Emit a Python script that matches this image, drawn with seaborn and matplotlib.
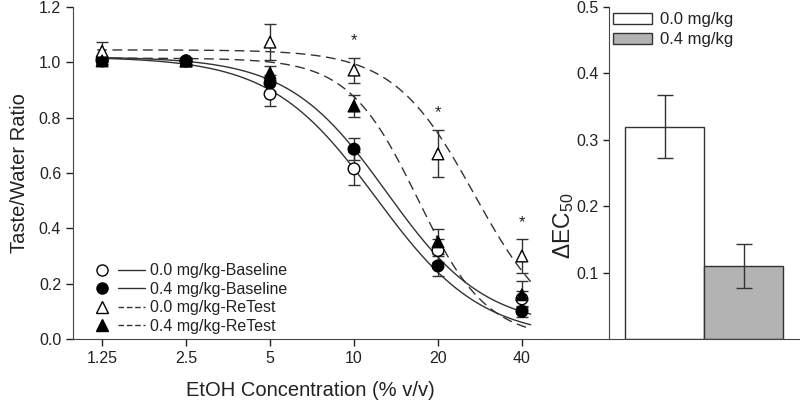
import matplotlib
matplotlib.use("Agg")
import matplotlib.pyplot as plt
import numpy as np
import pandas as pd
import seaborn as sns
from matplotlib.lines import Line2D
from matplotlib.patches import Patch
from matplotlib.legend_handler import HandlerTuple

# concentration axis
conc = [1.25, 2.5, 5, 10, 20, 40]
conc_labels = ["1.25", "2.5", "5", "10", "20", "40"]

groups = ["0.0 mg/kg-Baseline", "0.4 mg/kg-Baseline", "0.0 mg/kg-ReTest", "0.4 mg/kg-ReTest"]

# taste/water ratio means and SEMs
base00_mean = [1.01, 1.005, 0.885, 0.615, 0.32, 0.145]
base00_sem = [0.01, 0.01, 0.043, 0.06, 0.04, 0.03]
base04_mean = [1.005, 1.005, 0.925, 0.686, 0.264, 0.10]
base04_sem = [0.01, 0.01, 0.03, 0.04, 0.036, 0.02]
retest00_mean = [1.04, 1.005, 1.073, 0.972, 0.669, 0.30]
retest00_sem = [0.035, 0.01, 0.065, 0.045, 0.085, 0.06]
retest04_mean = [1.005, 1.005, 0.961, 0.842, 0.351, 0.16]
retest04_sem = [0.01, 0.01, 0.025, 0.04, 0.045, 0.05]

# fitted sigmoid parameters (top, bottom, EC50, hill)
fit_top = [1.02, 1.02, 1.045, 1.015]
fit_bottom = [0.0, 0.04, 0.0, 0.0]
fit_ec50 = [12.0, 13.1, 27.0, 16.9]
fit_hill = [2.3, 2.46, 3.0, 3.5]
curve_range = (1.2, 43)

# significance stars
star_x = [10, 20, 40]
star_y = [1.08, 0.82, 0.42]

# delta EC50 bars
dose_groups = ["0.0 mg/kg", "0.4 mg/kg"]
dec50_mean = [0.32, 0.11]
dec50_sem = [0.048, 0.033]

line_color = "#333333"
text_color = "#222222"

sns.set_style("ticks")
plt.rcParams["font.family"] = ["Liberation Sans", "DejaVu Sans"]
plt.rcParams["mathtext.default"] = "regular"
plt.rcParams["text.color"] = text_color
plt.rcParams["axes.labelcolor"] = text_color
plt.rcParams["xtick.color"] = text_color
plt.rcParams["ytick.color"] = text_color
plt.rcParams["axes.edgecolor"] = "#444444"

fig = plt.figure(figsize=(8, 4.12), dpi=100)
ax = fig.add_axes([73 / 800, 73 / 412, 475 / 800, 332 / 412])
ax2 = fig.add_axes([548 / 800, 73 / 412, 252 / 800, 332 / 412])

# --- left panel: dose-response curves
xs = np.geomspace(curve_range[0], curve_range[1], 300)
frames = []
for g, top, bot, ec, h in zip(groups, fit_top, fit_bottom, fit_ec50, fit_hill):
    ys = bot + (top - bot) / (1 + (xs / ec) ** h)
    frames.append(pd.DataFrame({"conc": xs, "ratio": ys, "group": g}))
curves = pd.concat(frames, ignore_index=True)

sns.lineplot(data=curves, x="conc", y="ratio", hue="group", style="group",
             palette=[line_color] * 4, dashes=["", "", (7, 4), (7, 4)],
             linewidth=1.0, legend=False, ax=ax, zorder=2)

means = [base00_mean, base04_mean, retest00_mean, retest04_mean]
sems = [base00_sem, base04_sem, retest00_sem, retest04_sem]
for m, s in zip(means, sems):
    ax.errorbar(conc, m, yerr=s, fmt="none", ecolor=line_color, elinewidth=1,
                capsize=4, capthick=1, zorder=3)

pts = pd.DataFrame({
    "conc": conc * 4,
    "ratio": sum(means, []),
    "group": [g for g in groups for _ in conc],
})
sns.scatterplot(data=pts, x="conc", y="ratio", hue="group", style="group",
                palette=["white", "black", "white", "black"],
                markers=["o", "o", "^", "^"], s=70, edgecolor="black",
                linewidth=1, legend=False, ax=ax, zorder=4)

for sx, sy in zip(star_x, star_y):
    ax.text(sx, sy, "*", ha="center", va="center", fontsize=12)

ax.set_xscale("log", base=2)
ax.set_xlim(0.983, 49.6)
ax.set_xticks(conc)
ax.set_xticklabels(conc_labels)
ax.minorticks_off()
ax.set_ylim(0, 1.2)
ax.set_yticks([0, 0.2, 0.4, 0.6, 0.8, 1.0, 1.2])
ax.set_yticklabels(["0.0", "0.2", "0.4", "0.6", "0.8", "1.0", "1.2"])
ax.tick_params(labelsize=11.5, length=5, width=1)
ax.set_xlabel("EtOH Concentration (% v/v)", fontsize=14.5, labelpad=11)
ax.set_ylabel("Taste/Water Ratio", fontsize=14.5, labelpad=7)
sns.despine(ax=ax)

handles = []
for mk, fc, ls in zip(["o", "o", "^", "^"], ["white", "black", "white", "black"],
                      ["-", "-", (0, (4, 2)), (0, (4, 2))]):
    mh = Line2D([], [], marker=mk, mfc=fc, mec="black", ls="none", ms=8)
    lh = Line2D([], [], color=line_color, ls=ls, lw=1)
    handles.append((mh, lh))
ax.legend(handles, groups, handler_map={tuple: HandlerTuple(ndivide=2, pad=0.15)},
          loc="lower left", bbox_to_anchor=(0.01, -0.018), frameon=False,
          handlelength=3.5, handletextpad=0.35, labelspacing=0.22, fontsize=11.5,
          borderaxespad=0.3)

# --- right panel: delta EC50 bars
sns.barplot(x=dose_groups, y=dec50_mean, hue=dose_groups,
            palette=["white", "#b3b3b3"], width=1.0, edgecolor=line_color,
            linewidth=1, legend=False, ax=ax2, zorder=2)
ax2.errorbar([0, 1], dec50_mean, yerr=dec50_sem, fmt="none", ecolor=line_color,
             elinewidth=1, capsize=6, capthick=1, zorder=3)
ax2.set_xlim(-1.475, 1.715)
ax2.set_ylim(0, 0.5)
ax2.set_yticks([0.1, 0.2, 0.3, 0.4, 0.5])
ax2.set_yticklabels(["0.1", "0.2", "0.3", "0.4", "0.5"])
ax2.set_xticks([])
ax2.spines["left"].set_position(("data", -0.70))
ax2.spines["top"].set_visible(False)
ax2.spines["right"].set_visible(False)
ax2.tick_params(labelsize=11.5, length=4, width=1)
ax2.set_xlabel("")
ax2.set_ylabel("ΔEC$_{50}$", fontsize=16.5)
ax2.yaxis.set_label_coords(0.11, 0.34)

bar_handles = [Patch(facecolor="white", edgecolor=line_color),
               Patch(facecolor="#b3b3b3", edgecolor=line_color)]
ax2.legend(bar_handles, dose_groups, loc="upper left", bbox_to_anchor=(0.2, 1.03),
           frameon=False, handlelength=2.3, handleheight=0.65, labelspacing=0.3,
           handletextpad=0.5, fontsize=12)

fig.savefig("out.png", dpi=100)
